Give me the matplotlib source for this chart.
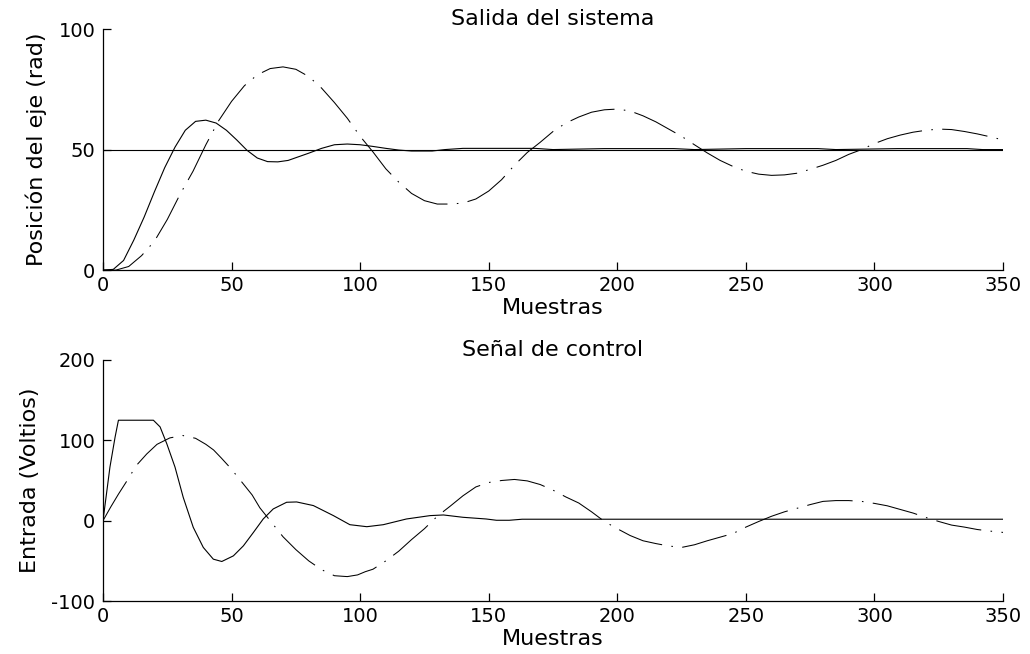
import matplotlib
matplotlib.use("Agg")
import matplotlib.pyplot as plt

# Salida del sistema (posición del eje, rad)
ref_x = [0, 350]
ref_y = [50, 50]

out_good_x = [0, 4, 8, 12, 16, 20, 24, 28, 32, 36, 40, 44, 48, 52, 56, 60, 64, 68,
              72, 76, 80, 85, 90, 95, 100, 105, 110, 115, 120, 128, 133, 140, 168,
              175, 195, 222, 230, 250, 278, 285, 309, 336, 342, 350]
out_good_y = [0, 0.3, 4, 12.5, 22, 32.5, 42.5, 51, 58, 61.7, 62.2, 61, 58, 54, 49.7,
              46.5, 45, 44.9, 45.5, 47, 48.5, 50.5, 52, 52.3, 52, 51.3, 50.5, 49.8,
              49.4, 49.4, 50, 50.5, 50.5, 50, 50.4, 50.4, 50, 50.4, 50.4, 50, 50.4,
              50.4, 50, 50]

out_bad_x = [0, 5, 10, 15, 20, 25, 30, 35, 40, 45, 50, 55, 60, 65, 70, 75, 80, 85,
             90, 95, 100, 105, 110, 115, 120, 125, 130, 135, 140, 145, 150, 155,
             160, 165, 170, 175, 180, 185, 190, 195, 200, 205, 210, 215, 220, 225,
             230, 235, 240, 245, 250, 255, 260, 265, 270, 275, 280, 285, 290, 295,
             300, 305, 310, 315, 320, 325, 330, 335, 340, 345, 350]
out_bad_y = [0, 0, 1.5, 6, 12, 21, 31.5, 41, 52, 62, 70, 76.5, 81, 83.6, 84.3, 83.3,
             80.3, 75.5, 69.5, 63, 55.5, 49, 42, 36.5, 31.8, 28.8, 27.4, 27.4, 27.8,
             29.5, 32.8, 37.5, 43.5, 48.8, 53, 57.5, 61, 63.5, 65.5, 66.5, 66.8, 66,
             64, 61.5, 58.5, 55.5, 52, 48.6, 45.5, 43, 41, 39.8, 39.3, 39.5, 40.2,
             41.8, 43.5, 45.5, 48, 50, 52.5, 54.5, 56, 57.2, 58, 58.5, 58.3, 57.5,
             56.5, 55.3, 54]

# Señal de control (entrada, V)
u_good_x = [0, 2.7, 4.7, 6, 19.6, 22.2, 24.8, 28, 31.2, 35.1, 39, 42.9, 46.2, 50.7,
            54.6, 58.5, 62.3, 66.2, 71.4, 75.3, 81.8, 89.6, 96, 102.6, 109, 118,
            127.2, 132.4, 140, 149, 153, 158, 163, 350]
u_good_y = [0, 66.7, 104, 125, 125, 116.7, 95.8, 66.7, 29, -8.3, -33.3, -47.9, -50.8,
            -43.8, -31.3, -14.6, 2.1, 14.6, 22.9, 23.3, 18.8, 6.3, -5, -7.5, -5, 2.1,
            6.3, 7.1, 4.2, 2.1, 0.5, 0.5, 1.8, 1.8]

u_bad_x = [0, 3, 6, 9, 13, 17, 21, 26, 31, 36, 40, 43, 46, 49, 52, 55, 58, 61, 65,
           70, 75, 80, 85, 90, 95, 99, 102, 105, 110, 115, 120, 125, 130, 135, 140,
           145, 150, 155, 160, 165, 170, 175, 180, 185, 190, 195, 200, 205, 210,
           215, 220, 225, 230, 235, 240, 245, 250, 255, 260, 265, 270, 275, 280,
           285, 290, 295, 300, 305, 310, 315, 320, 325, 330, 335, 340, 345, 350]
u_bad_y = [0, 17, 33, 48, 68.8, 83, 95, 103, 106, 102.5, 95, 88, 78, 67.5, 56, 44, 32,
           16, 0, -20, -36, -50, -61, -68.5, -69.6, -67.5, -63.5, -60.4, -50, -38,
           -23.5, -10, 5.5, 18, 31, 42, 47.5, 50, 51.3, 49.5, 45, 38, 29.5, 22, 11,
           -1, -10, -18.5, -25, -28.5, -31.5, -33.3, -30, -25, -20.5, -16, -8, -1,
           5.5, 11, 15.5, 20, 24, 25, 25, 24, 21.5, 18.5, 14, 9.5, 4, -1, -5.5, -8,
           -11, -13, -14.6]

x_ticks = [0, 50, 100, 150, 200, 250, 300, 350]

plt.rcParams['font.family'] = ['DejaVu Sans']
plt.rcParams['axes.unicode_minus'] = False

dashdot = (0, (44, 9, 1.5, 9))

fig = plt.figure(figsize=(10.3, 6.54), dpi=100)
ax1 = fig.add_axes([0.1, 0.587, 0.8738, 0.3686])
ax2 = fig.add_axes([0.1, 0.081, 0.8738, 0.3686])

ax1.plot(ref_x, ref_y, color='black', lw=0.8)
ax1.plot(out_good_x, out_good_y, color='black', lw=0.8)
ax1.plot(out_bad_x, out_bad_y, color='black', lw=0.75, linestyle=dashdot)
ax1.set_ylim(0, 100)
ax1.set_yticks([0, 50, 100])
ax1.set_title('Salida del sistema', fontsize=16, pad=1)
ax1.set_ylabel('Posición del eje (rad)', fontsize=16, labelpad=8)

ax2.plot(u_good_x, u_good_y, color='black', lw=0.8)
ax2.plot(u_bad_x, u_bad_y, color='black', lw=0.75, linestyle=dashdot)
ax2.set_ylim(-100, 200)
ax2.set_yticks([-100, 0, 100, 200])
ax2.set_title('Señal de control', fontsize=16, pad=1)
ax2.set_ylabel('Entrada (Voltios)', fontsize=16, labelpad=8)

for ax in (ax1, ax2):
    ax.set_xlim(0, 350)
    ax.set_xticks(x_ticks)
    ax.set_xlabel('Muestras', fontsize=16)
    ax.xaxis.set_label_coords(0.5, -0.115)
    ax.spines['top'].set_visible(False)
    ax.spines['right'].set_visible(False)
    ax.spines['left'].set_linewidth(0.9)
    ax.spines['bottom'].set_linewidth(0.9)
    ax.tick_params(axis='both', direction='in', length=5.5, width=0.9, labelsize=14)
    ax.tick_params(axis='x', pad=4.5)
    ax.tick_params(axis='y', pad=5.5)

fig.savefig('out.png', dpi=100)
